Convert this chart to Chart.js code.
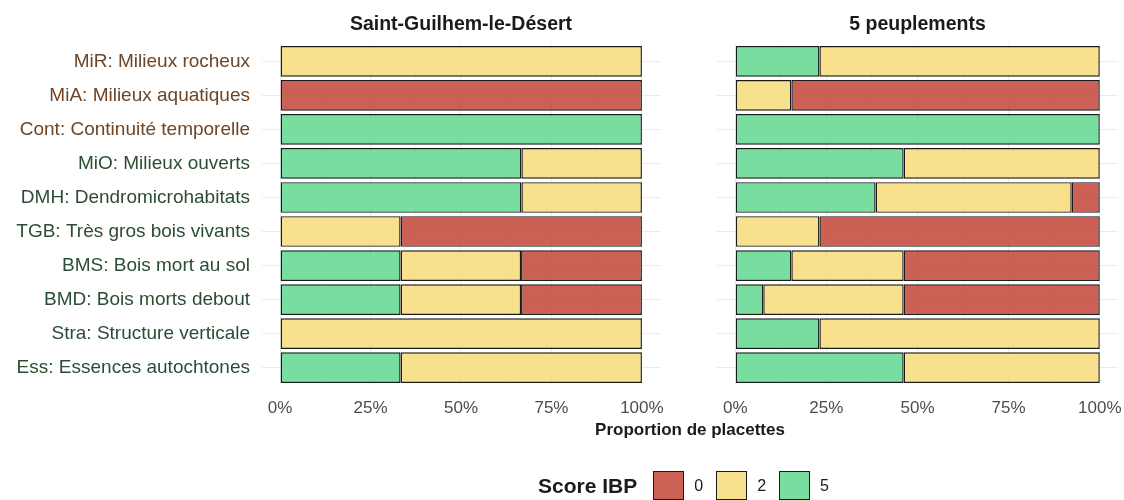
<!DOCTYPE html>
<html>
<head>
<meta charset="utf-8">
<script src="https://cdn.jsdelivr.net/npm/chart.js@4.4.0/dist/chart.umd.min.js"></script>
<style>
  body { margin: 0; background: #fff; width: 1124px; height: 500px; position: relative; overflow: hidden;
         font-family: 'Liberation Sans', Arial, sans-serif; }
  canvas { position: absolute; left: 0; top: 0; }
  #xTitle { position: absolute; left: 490px; width: 400px; top: 420px; text-align: center;
            font-weight: bold; font-size: 17px; color: #1a1a1a; }
  #legend { position: absolute; left: 290px; width: 800px; top: 471px; display: flex;
            justify-content: center; align-items: center; color: #1a1a1a; }
  #legend .name { font-weight: bold; font-size: 21px; margin-right: 16px; }
  #legend .box { width: 31px; height: 29px; border: 1.5px solid #1a1a1a; box-sizing: border-box; }
  #legend .lab { font-size: 16px; margin: 0 13px 0 10px; }
</style>
</head>
<body>
<canvas id="leftChart" width="1124" height="500"></canvas>
<canvas id="rightChart" width="1124" height="500"></canvas>
<div id="xTitle">Proportion de placettes</div>
<div id="legend"></div>
<script>
// categories, top to bottom
const categories = [
  'MiR: Milieux rocheux',
  'MiA: Milieux aquatiques',
  'Cont: Continuité temporelle',
  'MiO: Milieux ouverts',
  'DMH: Dendromicrohabitats',
  'TGB: Très gros bois vivants',
  'BMS: Bois mort au sol',
  'BMD: Bois morts debout',
  'Stra: Structure verticale',
  'Ess: Essences autochtones'
];
// first three are "contexte" factors, the rest "peuplement"
const labelGroup = ['contexte', 'contexte', 'contexte', 'peuplement', 'peuplement',
  'peuplement', 'peuplement', 'peuplement', 'peuplement', 'peuplement'];
const labelColors = { contexte: '#6E4526', peuplement: '#2C4D33' };

const panelTitles = ['Saint-Guilhem-le-Désert', '5 peuplements'];

// proportion of placettes (%) per score, Saint-Guilhem-le-Désert
const sgdScore5 = [0, 0, 100, 66.7, 66.7, 0, 33.3, 33.3, 0, 33.3];
const sgdScore2 = [100, 0, 0, 33.3, 33.3, 33.3, 33.3, 33.3, 100, 66.7];
const sgdScore0 = [0, 100, 0, 0, 0, 66.7, 33.4, 33.4, 0, 0];

// proportion of placettes (%) per score, 5 peuplements
const pplScore5 = [23.1, 0, 100, 46.2, 38.5, 0, 15.4, 7.7, 23.1, 46.2];
const pplScore2 = [76.9, 15.4, 0, 53.8, 53.8, 23.1, 30.8, 38.5, 76.9, 53.8];
const pplScore0 = [0, 84.6, 0, 0, 7.7, 76.9, 53.8, 53.8, 0, 0];

const scoreLabels = ['0', '2', '5'];
const scoreColors = { '0': 'rgba(199, 79, 66, 0.9)', '2': 'rgba(247, 221, 127, 0.9)', '5': 'rgba(105, 218, 150, 0.9)' };

const xTicks = [0, 12.5, 25, 37.5, 50, 62.5, 75, 87.5, 100];

Chart.defaults.font.family = "'Liberation Sans', Arial, sans-serif";

function makeChart(id, title, s5, s2, s0, isLeft) {
  const plotLeft = isLeft ? 262 : 717;
  const plotRight = isLeft ? 660 : 1118;
  const ctx = document.getElementById(id).getContext('2d');
  const ds = (label, data) => ({
    label: label,
    data: data,
    backgroundColor: scoreColors[label],
    borderColor: '#1a1a1a',
    borderWidth: 1.4,
    borderSkipped: false,
    barPercentage: 0.9,
    categoryPercentage: 1
  });
  return new Chart(ctx, {
    type: 'bar',
    data: {
      labels: categories,
      // green first so it sits on the left, as in the original
      datasets: [ds('5', s5), ds('2', s2), ds('0', s0)]
    },
    options: {
      indexAxis: 'y',
      responsive: false,
      animation: false,
      layout: { padding: { left: 0, right: 1124 - plotRight, top: 0, bottom: 0 } },
      plugins: {
        legend: { display: false },
        tooltip: { enabled: false },
        title: {
          display: true,
          text: title,
          fullSize: false,
          color: '#1a1a1a',
          font: { size: 19.5, weight: 'bold' },
          padding: { top: 12.5, bottom: 8.4 }
        }
      },
      scales: {
        x: {
          stacked: true,
          min: -5,
          max: 105,
          afterBuildTicks: (scale) => { scale.ticks = xTicks.map(v => ({ value: v })); },
          afterFit: (scale) => {
            scale.height = 115.3;
            scale.paddingLeft = 0;
            scale.paddingRight = 0;
          },
          ticks: {
            autoSkip: false,
            maxRotation: 0,
            padding: 13,
            color: '#4D4D4D',
            font: { size: 17 },
            callback: (v) => (v % 25 === 0 ? v + '%' : '')
          },
          grid: {
            drawTicks: false,
            color: (c) => (c.tick && c.tick.value % 25 === 0 ? '#EBEBEB' : '#F2F2F2'),
            lineWidth: (c) => (c.tick && c.tick.value % 25 === 0 ? 1.1 : 0.7)
          },
          border: { display: false }
        },
        y: {
          stacked: true,
          afterFit: (scale) => {
            scale.width = plotLeft;
            scale.paddingTop = 0;
            scale.paddingBottom = 0;
          },
          ticks: {
            display: isLeft,
            padding: 12,
            font: { size: 19 },
            color: (c) => labelColors[labelGroup[c.index]]
          },
          grid: { offset: false, drawTicks: false, color: '#EBEBEB', lineWidth: 1.1 },
          border: { display: false }
        }
      }
    }
  });
}

makeChart('leftChart', panelTitles[0], sgdScore5, sgdScore2, sgdScore0, true);
makeChart('rightChart', panelTitles[1], pplScore5, pplScore2, pplScore0, false);

// legend
const legend = document.getElementById('legend');
legend.innerHTML = '<span class="name">Score IBP</span>' + scoreLabels.map(s =>
  `<span class="box" style="background:${scoreColors[s]}"></span><span class="lab">${s}</span>`
).join('');
</script>
</body>
</html>
